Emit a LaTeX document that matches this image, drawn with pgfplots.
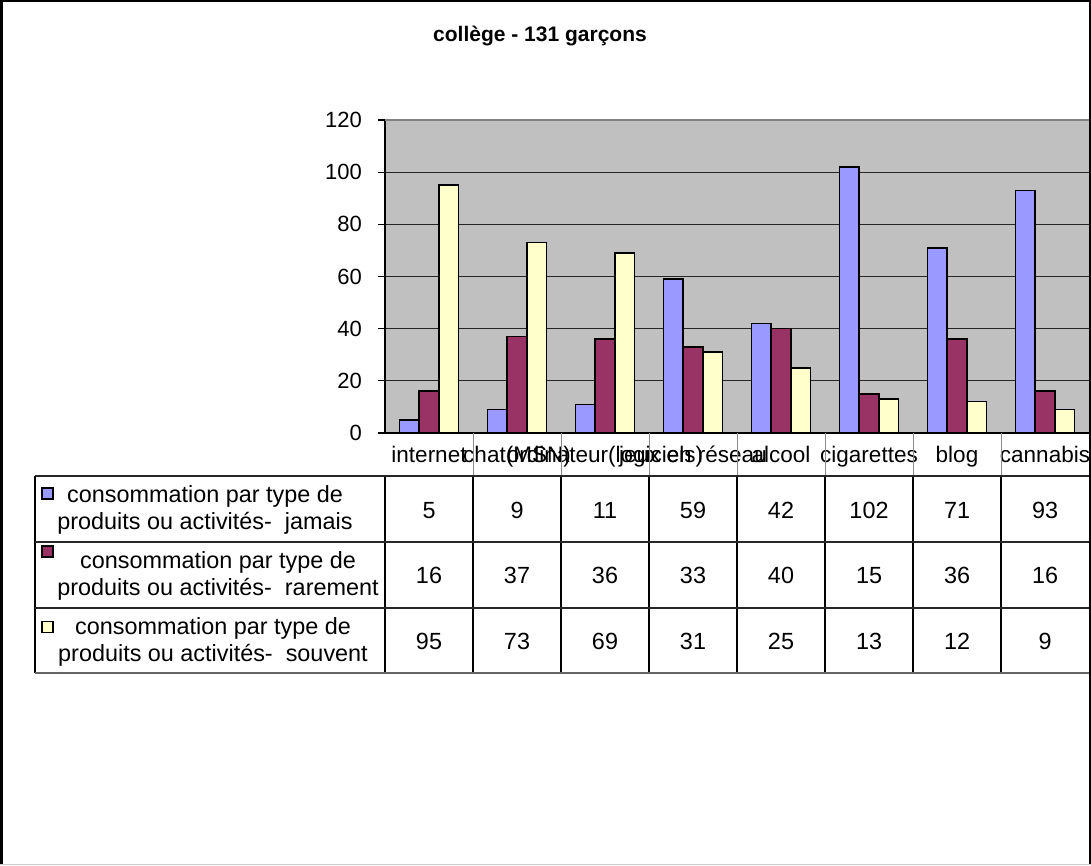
\documentclass[border=0pt]{standalone}
\usepackage{fontspec}
\setmainfont{Liberation Sans}
\usepackage{pgfplots}
\pgfplotsset{compat=1.18}
\definecolor{cjamais}{HTML}{9999FF}
\definecolor{crare}{HTML}{993366}
\definecolor{csouv}{HTML}{FFFFCC}
\definecolor{plotbg}{HTML}{C0C0C0}
\newcommand{\tf}{\fontsize{23.4}{27}\selectfont}
\newcommand{\kf}{\fontsize{22.5}{27}\selectfont}
\begin{document}
\begin{tikzpicture}[x=1pt,y=1pt]
\useasboundingbox (0,0) rectangle (1091,865);
\fill[white] (0,0) rectangle (1091,865);
\begin{axis}[
  at={(385pt,432pt)}, anchor=south west, scale only axis,
  width=704pt, height=313pt,
  xmin=-0.5, xmax=7.5, ymin=0, ymax=120,
  ybar=0pt, bar width=19.7pt,
  axis background/.style={fill=plotbg},
  axis x line*=bottom, axis y line*=left,
  axis line style={black, line width=1.3pt},
  ytick={0,20,...,120},
  ymajorgrids, grid style={black!85, line width=1pt},
  tick align=outside,
  major tick length=7pt,
  y tick style={black, line width=1.3pt},
  x tick style={draw=none},
  xtick={0,...,7},
  xticklabels={internet,chat(MSN),ordinateur(logiciels),jeux en réseau,alcool,cigarettes,blog,cannabis},
  yticklabel style={font=\fontsize{22}{26}\selectfont, inner sep=0pt, anchor=east, xshift=-16pt},
  xticklabel style={font=\kf, inner sep=0pt, anchor=base, yshift=-23pt},
  /pgf/number format/assume math mode=true,
  every axis plot/.append style={draw=black, line width=1.6pt},
]
\addplot[fill=cjamais] coordinates {(0,5) (1,9) (2,11) (3,59) (4,42) (5,102) (6,71) (7,93)};
\addplot[fill=crare] coordinates {(0,16) (1,37) (2,36) (3,33) (4,40) (5,15) (6,36) (7,16)};
\addplot[fill=csouv] coordinates {(0,95) (1,73) (2,69) (3,31) (4,25) (5,13) (6,12) (7,9)};
\draw[black!50, line width=1.5pt] (rel axis cs:0,1) -- (rel axis cs:1,1);
\end{axis}
% title
\node[font=\bfseries\fontsize{21}{25}\selectfont] at (540,829) {collège - 131 garçons};
% data table grid
\foreach \k in {1,...,7} {
  \draw[black!45, line width=1pt] ({385+88*\k},432) -- ({385+88*\k},389);
}
\foreach \k in {0,...,7} {
  \draw[black, line width=1.3pt] ({385+88*\k},389) -- ({385+88*\k},192);
}
\draw[black, line width=1.3pt] (35,389) -- (35,192);
\foreach \yy in {389,323,257} {
  \draw[black!85, line width=1.3pt] (35,\yy) -- (1091,\yy);
}
\draw[black!60, line width=1.3pt] (35,192) -- (1091,192);
% legend column
\filldraw[fill=cjamais, draw=black, line width=1.3pt] (42,366) rectangle (53,377);
\filldraw[fill=crare, draw=black, line width=1.3pt] (42,308) rectangle (53,319);
\filldraw[fill=csouv, draw=black, line width=1.3pt] (42,232.5) rectangle (53,243.5);
\node[align=center, font=\tf, inner sep=0pt] at (205,355) {consommation par type de\\produits ou activités-\ \ jamais};
\node[align=center, font=\tf, inner sep=0pt] at (218,289) {consommation par type de\\produits ou activités-\ \ rarement};
\node[align=center, font=\tf, inner sep=0pt] at (213,223) {consommation par type de\\produits ou activités-\ \ souvent};
% values
\foreach \v [count=\i from 0] in {5,9,11,59,42,102,71,93} {
  \node[font=\tf, inner sep=0pt, anchor=base] at ({429+88*\i},346.6) {\v};
}
\foreach \v [count=\i from 0] in {16,37,36,33,40,15,36,16} {
  \node[font=\tf, inner sep=0pt, anchor=base] at ({429+88*\i},281.6) {\v};
}
\foreach \v [count=\i from 0] in {95,73,69,31,25,13,12,9} {
  \node[font=\tf, inner sep=0pt, anchor=base] at ({429+88*\i},215.6) {\v};
}
% outer frame
\fill[black] (0,0) rectangle (3,865);
\fill[black] (0,863) rectangle (1091,865);
\fill[black] (1088.5,0) rectangle (1091,865);
\fill[black!20] (0,0) rectangle (1091,1.5);
\end{tikzpicture}
\end{document}
